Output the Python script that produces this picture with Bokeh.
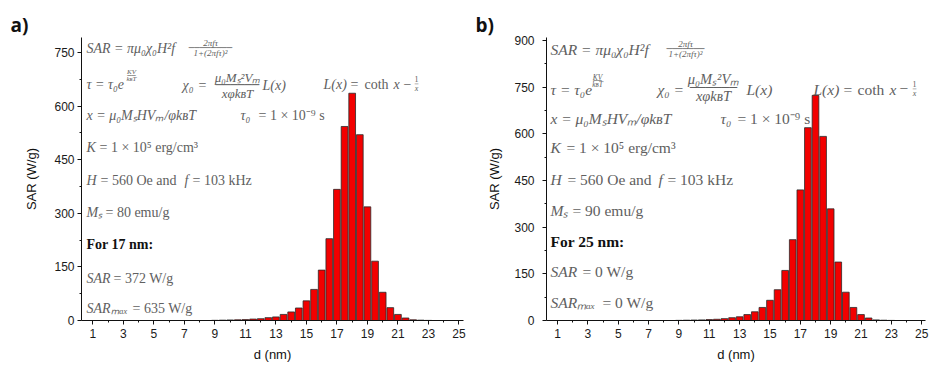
from bokeh.plotting import figure
from bokeh.models import Range1d, FixedTicker, Label
from bokeh.layouts import row
from bokeh.embed import file_html
from bokeh.resources import INLINE

# ---------------- data ----------------
d_nm = [9, 9.5, 10, 10.5, 11, 11.5, 12, 12.5, 13, 13.5, 14, 14.5, 15, 15.5,
        16, 16.5, 17, 17.5, 18, 18.5, 19, 19.5, 20, 20.5, 21, 21.5, 22, 22.5, 23]
sar_a = [0.5, 1, 1.5, 2, 2.5, 4, 5, 8, 10, 17, 24, 35, 55, 87,
         141, 229, 367, 543, 636, 520, 318, 166, 79, 36, 17, 7, 2, 1, 0.3]
sar_b = [0.5, 1, 1.5, 2, 3, 4, 6, 9, 12, 19, 28, 42, 65, 99,
         161, 260, 420, 620, 724, 592, 359, 188, 91, 42, 19, 8, 2, 1, 0.3]

x_ticks = [1, 3, 5, 7, 9, 11, 13, 15, 17, 19, 21, 23, 25]
x_minor = [2, 4, 6, 8, 10, 12, 14, 16, 18, 20, 22, 24]
y_ticks_a = [0, 150, 300, 450, 600, 750]
y_minor_a = [75, 225, 375, 525, 675]
y_ticks_b = [0, 150, 300, 450, 600, 750, 900]
y_minor_b = [75, 225, 375, 525, 675, 825]

MATH = "#606060"
SERIF = "Liberation Serif"
H = 364


def make_fig(width, bl, br, bt, bb, xr, yr, yt, ym, tick_standoff, lab_standoff, tag):
    p = figure(width=width, height=H, x_range=Range1d(*xr), y_range=Range1d(*yr),
               output_backend="svg", toolbar_location=None,
               min_border_left=bl, min_border_right=br,
               min_border_top=bt, min_border_bottom=bb)
    p.outline_line_color = None
    p.grid.visible = False
    p.background_fill_color = "white"
    p.border_fill_color = "white"
    p.title.text = tag
    p.title.text_font = "Open Sans"
    p.title.text_font_size = "19px"
    p.title.text_font_style = "bold"
    p.title.text_color = "#111111"
    p.title.align = "left"
    p.title.offset = -71
    p.title.standoff = 0
    for ax in (p.xaxis[0], p.yaxis[0]):
        ax.axis_line_color = "#111111"
        ax.axis_line_width = 1
        ax.major_tick_line_color = "#111111"
        ax.minor_tick_line_color = "#111111"
        ax.major_tick_in = 0
        ax.major_tick_out = 4
        ax.minor_tick_in = 0
        ax.minor_tick_out = 2
        ax.major_label_text_font = "Liberation Sans"
        ax.major_label_text_font_size = "12px"
        ax.major_label_text_color = "#1a1a1a"
        ax.axis_label_text_font = "Liberation Sans"
        ax.axis_label_text_font_size = "13px"
        ax.axis_label_text_font_style = "normal"
        ax.axis_label_text_color = "#111111"
    p.xaxis.ticker = FixedTicker(ticks=x_ticks, minor_ticks=x_minor)
    p.yaxis.ticker = FixedTicker(ticks=yt, minor_ticks=ym)
    p.xaxis.axis_label = "d (nm)"
    p.yaxis.axis_label = "SAR (W/g)"
    p.xaxis.major_label_standoff = 4
    p.xaxis.axis_label_standoff = 6
    p.yaxis.major_label_standoff = tick_standoff
    p.yaxis.axis_label_standoff = lab_standoff
    return p


def putter(p, fl, fb, x0, sx, sy):
    def put(px, py, s, size, style="italic", color=MATH, align="left", font=SERIF):
        p.add_layout(Label(x=x0 + (px - fl) / sx, y=(fb - py) / sy, text=s,
                           text_font=font, text_font_size=f"{size}px",
                           text_font_style=style, text_color=color,
                           text_align=align, text_baseline="middle"))
    return put


# ---------------- panel a ----------------
pa = make_fig(470, 81, 7, 37, 42, (0.25, 25.3), (0, 792), y_ticks_a, y_minor_a, 3, 12, "a)")
pa.vbar(x=d_nm, top=sar_a, width=0.44, bottom=0,
        fill_color="#f20000", line_color="#2a2a2a", line_width=0.8)
put = putter(pa, 81, 322, 0.25, 382 / 25.05, 285 / 792)
s = 14
put(86, 48, "SAR = πμ₀χ₀H²f", s)
put(210, 42.5, "2πfτ", 9, align="center")
put(210, 47.5, "────────", 9, style="normal", align="center", font="DejaVu Sans Mono")
put(210, 53, "1+(2πfτ)²", 9, align="center")
put(86, 84, "τ = τ₀e", s)
put(131, 72, "KV", 7, align="center")
put(131, 75.5, "──", 7, style="normal", align="center", font="DejaVu Sans Mono")
put(131, 79, "kʙT", 7, align="center")
put(182, 85, "χ₀", s)
put(198, 85, "=", s, style="normal")
put(237, 77, "μ₀Mₛ²Vₘ", 13, align="center")
put(237, 85, "──────", 12, style="normal", align="center", font="DejaVu Sans Mono")
put(237, 93, "xφkʙT", 13, align="center")
put(262, 85, "L(x)", s)
put(323, 84, "L(x)", s)
put(350, 84, "=", s, style="normal")
put(364, 84, "coth", s, style="normal")
put(393, 84, "x", s)
put(403, 84, "−", s, style="normal")
put(416, 79, "1", 8, style="normal", align="center")
put(416, 83.5, "─", 6, style="normal", align="center", font="DejaVu Sans Mono")
put(416, 88, "x", 8, align="center")
put(86, 116, "x = μ₀MₛHVₘ/φkʙT", s)
put(240, 116, "τ₀", s)
put(258, 116, "= 1 × 10⁻⁹ s", s, style="normal")
put(86, 148, "K", s)
put(99, 148, "= 1 × 10⁵ erg/cm³", s, style="normal")
put(86, 181, "H", s)
put(100, 181, "= 560 Oe and", s, style="normal")
put(184, 181, "f", s)
put(192, 181, "= 103 kHz", s, style="normal")
put(86, 213, "Mₛ", s)
put(105, 213, "= 80 emu/g", s, style="normal")
put(86, 245, "For 17 nm:", s, style="bold", color="#111111")
put(86, 280, "SAR", s)
put(113, 280, "= 372 W/g", s, style="normal")
put(86, 310, "SARₘₐₓ", s)
put(132, 310, "= 635 W/g", s, style="normal")

# ---------------- panel b ----------------
pb = make_fig(462, 76, 7, 32, 42, (0.27, 25.25), (0, 910), y_ticks_b, y_minor_b, 8, 9, "b)")
pb.vbar(x=d_nm, top=sar_b, width=0.44, bottom=0,
        fill_color="#f20000", line_color="#2a2a2a", line_width=0.8)
put = putter(pb, 546, 322, 0.27, 379 / 24.98, 290 / 910)
s = 15.5
put(550, 44, "SAR = πμ₀χ₀H²f", s)
put(685, 39, "2πfτ", 9, align="center")
put(685, 43.5, "───────", 9, style="normal", align="center", font="DejaVu Sans Mono")
put(685, 48.5, "1+(2πfτ)²", 9, align="center")
put(550, 85, "τ = τ₀e", s)
put(597, 73, "KV", 7.5, align="center")
put(597, 76.5, "──", 7, style="normal", align="center", font="DejaVu Sans Mono")
put(597, 80, "kʙT", 7.5, align="center")
put(657, 85, "χ₀", s)
put(674, 85, "=", s, style="normal")
put(713, 75, "μ₀Mₛ²Vₘ", 14.5, align="center")
put(713, 83.5, "──────", 13, style="normal", align="center", font="DejaVu Sans Mono")
put(713, 92, "xφkʙT", 14.5, align="center")
put(746, 85, "L(x)", s)
put(813, 85, "L(x)", s)
put(843, 85, "=", s, style="normal")
put(857, 85, "coth", s, style="normal")
put(889, 85, "x", s)
put(899, 85, "−", s, style="normal")
put(914, 80, "1", 8, style="normal", align="center")
put(914, 84.5, "─", 6, style="normal", align="center", font="DejaVu Sans Mono")
put(914, 89, "x", 8, align="center")
put(550, 115, "x = μ₀MₛHVₘ/φkʙT", s)
put(720, 115, "τ₀", s)
put(737, 115, "= 1 × 10⁻⁹ s", s, style="normal")
put(550, 145, "K", s)
put(566, 145, "= 1 × 10⁵ erg/cm³", s, style="normal")
put(550, 177, "H", s)
put(567, 177, "= 560 Oe and", s, style="normal")
put(658, 177, "f", s)
put(667, 177, "= 103 kHz", s, style="normal")
put(550, 209, "Mₛ", s)
put(572, 209, "= 90 emu/g", s, style="normal")
put(550, 241, "For 25 nm:", s, style="bold", color="#111111")
put(550, 272, "SAR", s)
put(582, 272, "= 0 W/g", s, style="normal")
put(550, 304, "SARₘₐₓ", s)
put(602, 304, "= 0 W/g", s, style="normal")

layout = row(pa, pb)
open("out.html", "w").write(file_html(layout, INLINE))
